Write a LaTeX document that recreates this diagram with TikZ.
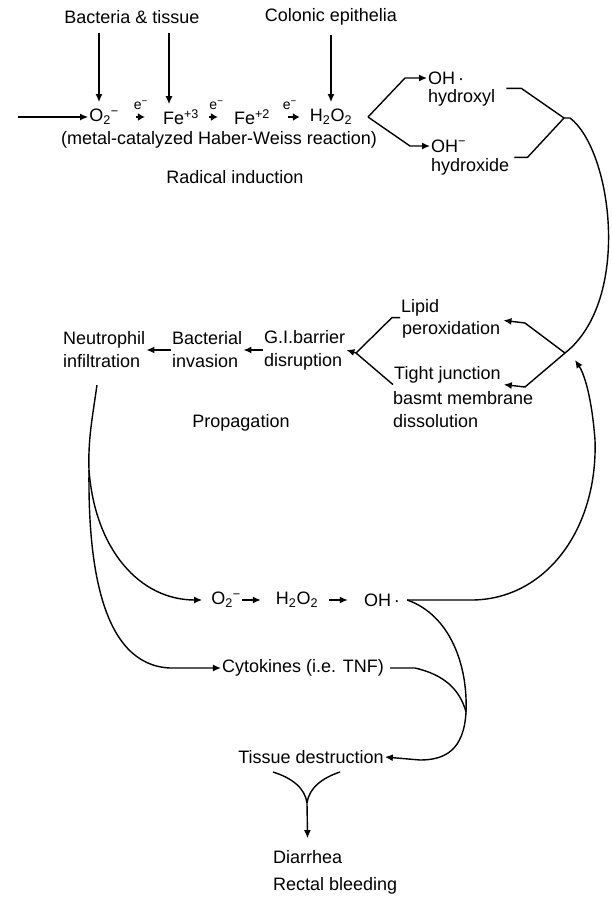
\documentclass[tikz,border=0pt]{standalone}
\usepackage{fontspec}
\setmainfont{Liberation Sans}
\usetikzlibrary{arrows.meta}

\newcommand{\supsub}[2]{\textsubscript{#2}\textsuperscript{#1}}

\begin{document}
\begin{tikzpicture}[
  x=1pt, y={(0pt,-1pt)},
  font=\fontsize{18}{23}\selectfont,
  lbl/.style={inner sep=1pt, align=left},
  ln/.style={line width=1.4pt},
  arr/.style={line width=1.4pt, -{Latex[length=8pt,width=7pt]}},
  earr/.style={line width=1.8pt, -{Latex[length=7pt,width=8pt]}},
  elab/.style={font=\fontsize{14}{16}\selectfont, inner sep=0pt, above=6pt}
]
\useasboundingbox (0,0) rectangle (612,897);

\node[lbl] (bact) at (132,17) {Bacteria \& tissue};
\node[lbl] (colon) at (331,17) {Colonic epithelia};
\node[lbl] (otwo) at (104,117) {O\supsub{−}{2}};
\node[lbl] (fethree) at (181,117) {Fe\textsuperscript{+3}};
\node[lbl] (fetwo) at (252,117) {Fe\textsuperscript{+2}};
\node[lbl] (hoo) at (331,117) {H\textsubscript{2}O\textsubscript{2}};
\node[lbl] (haber) at (219,140) {(metal-catalyzed Haber-Weiss reaction)};
\node[lbl] (radical) at (235,177) {Radical induction};
\node[lbl, anchor=west] (ohdot) at (427,78) {OH\,·};
\node[lbl, anchor=west] (hydroxyl) at (427,98) {hydroxyl};
\node[lbl, anchor=west] (ohminus) at (430,146) {OH\textsuperscript{−}};
\node[lbl, anchor=west] (hydroxide) at (430,167) {hydroxide};

\node[lbl, anchor=west] (neutro) at (62,350) {Neutrophil\\infiltration};
\node[lbl, anchor=west] (bactinv) at (171,350) {Bacterial\\invasion};
\node[lbl, anchor=west] (gibar) at (263,350) {G.I.barrier\\disruption};
\node[lbl, anchor=west] (lipid) at (400,308) {Lipid};
\node[lbl, anchor=west] (perox) at (401,330) {peroxidation};
\node[lbl, anchor=west] (tight) at (393,375) {Tight junction};
\node[lbl, anchor=west] (basmt) at (392,410) {basmt membrane\\dissolution};
\node[lbl] (propag) at (241,423) {Propagation};

\node[lbl] (otwob) at (226,600) {O\supsub{−}{2}};
\node[lbl] (hoob) at (297,600) {H\textsubscript{2}O\textsubscript{2}};
\node[lbl] (ohb) at (382,600) {OH\,·};
\node[lbl] (cyto) at (303,668) {Cytokines (i.e. TNF)};
\node[lbl] (tissue) at (311,757) {Tissue destruction};
\node[lbl, anchor=west] (diarrhea) at (272,857) {Diarrhea};
\node[lbl, anchor=west] (rectal) at (272,886) {Rectal bleeding};

\coordinate (entry) at (18,117);
\coordinate (hsplit) at (368,117);
\coordinate (radmerge) at (564,118);
\coordinate (junc) at (565,353);
\coordinate (juncin) at (575,360);
\coordinate (gisplit) at (356,353);
\coordinate (nsplit) at (89,470);
\coordinate (tmerge) at (466,712);
\coordinate (yleft) at (273,772);
\coordinate (yright) at (340,772);
\coordinate (ysplit) at (307,803);

\draw[arr] (entry) -- (otwo.west);
\draw[arr, shorten <=8pt, shorten >=6pt] ([xshift=-33pt]bact.south) -- ([xshift=-5pt]otwo.north);
\draw[arr, shorten <=8pt, shorten >=4pt] ([xshift=37pt]bact.south) -- ([xshift=-12pt]fethree.north);
\draw[arr, shorten <=8pt, shorten >=6pt] (colon.south) -- (hoo.north);
\draw[earr, shorten <=16pt, shorten >=17pt] (otwo.east) -- node[elab] {e\textsuperscript{−}} (fethree.west);
\draw[earr, shorten <=9pt, shorten >=15pt] (fethree.east) -- node[elab] {e\textsuperscript{−}} (fetwo.west);
\draw[earr, shorten <=17pt, shorten >=9pt] (fetwo.east) -- node[elab] {e\textsuperscript{−}} (hoo.west);
\draw[arr] (hsplit) -- ([xshift=-22pt]ohdot.west) -- (ohdot.west);
\draw[arr] (hsplit) -- ([xshift=-20pt]ohminus.west) -- (ohminus.west);
\draw[ln] ([xshift=10pt]hydroxyl.north east) -- ++(15,0) -- (radmerge);
\draw[ln] ([xshift=4pt]hydroxide.north east) -- ++(13,0) -- (radmerge);
\draw[ln] (radmerge) -- ++(6,0) .. controls (612,150) and (632,300) .. (junc);

\draw[arr] (junc) -- ++(-40,-30) -- ([xshift=2pt]perox.north east);
\draw[arr] (junc) -- ++(-40,34) -- ([xshift=2pt]tight.south east);
\draw[ln] (lipid.south west) -- ++(-8,0) -- (gisplit);
\draw[ln] (tight.south west) -- (gisplit);
\draw[arr] (gisplit) -- (gibar.east);
\draw[arr] (gibar.west) -- (bactinv.east);
\draw[arr] (bactinv.west) -- (neutro.east);

\draw[ln, shorten <=16pt] ([xshift=-5pt]neutro.south) .. controls (92,420) and (88,440) .. (nsplit);
\draw[arr, shorten >=8pt] (nsplit) .. controls (95,550) and (140,600) .. (otwob.west);
\draw[arr] (nsplit) .. controls (88,560) and (100,665) .. (170,668) -- (cyto.west);
\draw[arr, shorten >=14pt] (otwob.east) -- (hoob.west);
\draw[arr, shorten <=10pt, shorten >=15pt] (hoob.east) -- (ohb.west);
\draw[arr] ([xshift=6pt]ohb.east) -- ++(64,0) .. controls (545,600) and (598,530) .. (595,440)
  .. controls (592,400) and (585,375) .. (juncin);
\draw[ln] ([xshift=6pt]ohb.east) .. controls (450,615) and (468,665) .. (tmerge);
\draw[arr] (tmerge) .. controls (464,750) and (445,760) .. (420,760) -- (tissue.east);
\draw[ln] ([xshift=5pt]cyto.east) -- ++(25,0) .. controls (445,675) and (460,690) .. (tmerge);

\draw[ln] (yleft) .. controls (292,778) and (305,788) .. (ysplit);
\draw[ln] (yright) .. controls (322,778) and (309,788) .. (ysplit);
\draw[arr, shorten >=11pt] (ysplit) -- (diarrhea.north);
\end{tikzpicture}
\end{document}
